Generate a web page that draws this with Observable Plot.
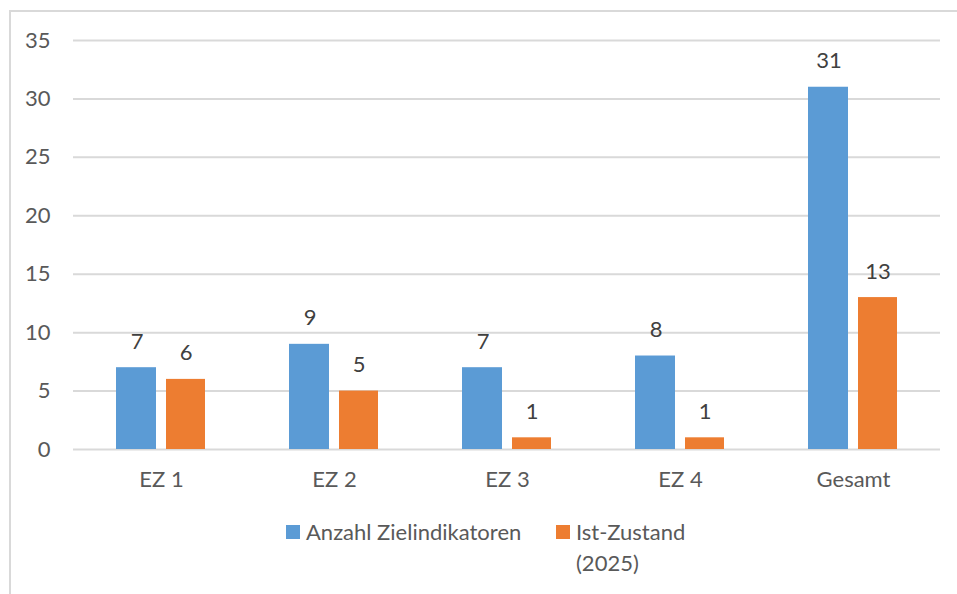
<!DOCTYPE html>
<html>
<head>
<meta charset="utf-8">
<script src="https://cdn.jsdelivr.net/npm/d3@7"></script>
<script src="https://cdn.jsdelivr.net/npm/@observablehq/plot@0.6"></script>
<style>
  html, body { margin: 0; padding: 0; background: #fff; }
  #wrap { position: relative; width: 957px; height: 594px; overflow: hidden; font-family: Lato, "Open Sans", sans-serif; }
  #frame { position: absolute; left: 9px; top: 10px; width: 1000px; height: 700px; border: 2px solid #d9d9d9; box-sizing: border-box; }
  #chart { position: absolute; left: 0; top: 0; }
  #legend { position: absolute; left: 0; top: 516px; width: 957px; color: #595959; font-size: 22px; }
  .item { position: absolute; display: flex; align-items: flex-start; }
  .sw { width: 14px; height: 14px; margin-top: 9px; margin-right: 6px; flex: none; }
  .lbl { line-height: 31px; }
</style>
</head>
<body>
<div id="wrap">
  <div id="frame"></div>
  <div id="chart"></div>
  <div id="legend"></div>
</div>
<script>
const categories = ["EZ 1", "EZ 2", "EZ 3", "EZ 4", "Gesamt"];
const seriesNames = ["Anzahl Zielindikatoren", "Ist-Zustand (2025)"];
const legendLabels = [["Anzahl Zielindikatoren"], ["Ist-Zustand", "(2025)"]];
const anzahl = [7, 9, 7, 8, 31];
const istZustand = [6, 5, 1, 1, 13];
const yTicks = [0, 5, 10, 15, 20, 25, 30, 35];
const colors = ["#5b9bd5", "#ed7d31"];

const dataA = categories.map((c, i) => ({category: c, value: anzahl[i], series: seriesNames[0]}));
const dataB = categories.map((c, i) => ({category: c, value: istZustand[i], series: seriesNames[1]}));

const chart = Plot.plot({
  width: 957,
  height: 500,
  marginTop: 40,
  marginBottom: 51,
  marginLeft: 73,
  marginRight: 17,
  style: {fontFamily: "Lato, 'Open Sans', sans-serif", fontSize: "22px", color: "#595959", background: "transparent"},
  x: {domain: categories, paddingInner: 0.4925, paddingOuter: 0.246, label: null},
  y: {domain: [0, 35], label: null},
  color: {domain: seriesNames, range: colors},
  marks: [
    Plot.ruleY(yTicks, {stroke: "#d9d9d9", strokeWidth: 2}),
    Plot.barY(dataA, {x: "category", y: "value", fill: "series", insetLeft: -1, insetRight: 49}),
    Plot.barY(dataB, {x: "category", y: "value", fill: "series", insetLeft: 49}),
    Plot.text(dataA, {x: "category", y: "value", text: d => String(d.value), dx: -24.5, dy: -26, fill: "#404040", fontSize: 22}),
    Plot.text(dataB, {x: "category", y: "value", text: d => String(d.value), dx: 24.5, dy: -26, fill: "#404040", fontSize: 22}),
    Plot.axisY(yTicks, {tickSize: 0, tickPadding: 23, label: null, fill: "#595959", fontSize: 22}),
    Plot.axisX({tickSize: 0, tickPadding: 22, label: null, fill: "#595959", fontSize: 22})
  ]
});
document.getElementById("chart").appendChild(chart);

const legend = document.getElementById("legend");
const legendX = [286, 556];
seriesNames.forEach((s, i) => {
  const item = document.createElement("div");
  item.className = "item";
  item.style.left = legendX[i] + "px";
  const sw = document.createElement("div");
  sw.className = "sw";
  sw.style.background = colors[i];
  const lbl = document.createElement("div");
  lbl.className = "lbl";
  lbl.innerHTML = legendLabels[i].join("<br>");
  item.appendChild(sw);
  item.appendChild(lbl);
  legend.appendChild(item);
});
</script>
</body>
</html>
